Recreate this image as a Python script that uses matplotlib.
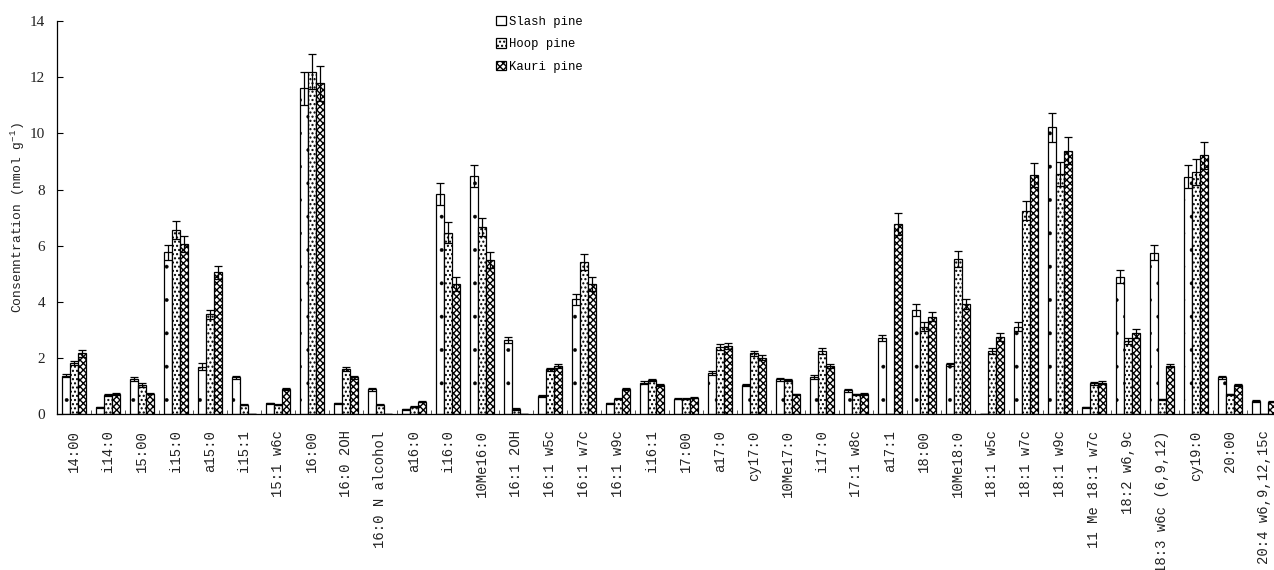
import numpy as np
import matplotlib
matplotlib.use("Agg")
import matplotlib.pyplot as plt
from matplotlib.patches import Patch

# Fatty acid (PLFA) concentrations under three pine plantations
categories = [
    "14:00", "i14:0", "15:00", "i15:0", "a15:0", "i15:1", "15:1 w6c", "16:00",
    "16:0 2OH", "16:0 N alcohol", "a16:0", "i16:0", "10Me16:0", "16:1 2OH",
    "16:1 w5c", "16:1 w7c", "16:1 w9c", "i16:1", "17:00", "a17:0", "cy17:0",
    "10Me17:0", "i17:0", "17:1 w8c", "a17:1", "18:00", "10Me18:0", "18:1 w5c",
    "18:1 w7c", "18:1 w9c", "11 Me 18:1 w7c", "18:2 w6,9c", "18:3 w6c (6,9,12)",
    "cy19:0", "20:00", "20:4 w6,9,12,15c",
]

slash = [1.38, 0.25, 1.25, 5.77, 1.70, 1.32, 0.39, 11.60, 0.39, 0.89, 0.18, 7.85,
         8.48, 2.65, 0.65, 4.10, 0.39, 1.13, 0.56, 1.47, 1.04, 1.25, 1.33, 0.86,
         2.73, 3.71, 1.78, 0.00, 3.12, 10.21, 0.25, 4.90, 5.75, 8.46, 1.32, 0.48]
slash_err = [0.07, 0.01, 0.07, 0.27, 0.12, 0.06, 0.02, 0.59, 0.02, 0.05, 0.01, 0.39,
             0.40, 0.11, 0.02, 0.20, 0.02, 0.04, 0.02, 0.06, 0.03, 0.05, 0.06, 0.05,
             0.11, 0.20, 0.05, 0.00, 0.15, 0.52, 0.01, 0.23, 0.27, 0.41, 0.05, 0.03]

hoop = [1.84, 0.69, 1.04, 6.57, 3.56, 0.34, 0.34, 12.19, 1.60, 0.34, 0.27, 6.47,
        6.67, 0.19, 1.60, 5.43, 0.55, 1.23, 0.55, 2.41, 2.17, 1.22, 2.25, 0.71,
        0.00, 3.12, 5.53, 2.26, 7.25, 8.55, 1.10, 2.61, 0.54, 8.62, 0.71, 0.00]
hoop_err = [0.07, 0.03, 0.06, 0.32, 0.15, 0.02, 0.02, 0.62, 0.07, 0.02, 0.02, 0.37,
            0.31, 0.02, 0.06, 0.28, 0.02, 0.04, 0.02, 0.11, 0.10, 0.05, 0.10, 0.02,
            0.00, 0.15, 0.27, 0.10, 0.35, 0.43, 0.05, 0.12, 0.02, 0.45, 0.02, 0.00]

kauri = [2.17, 0.72, 0.74, 6.07, 5.05, 0.00, 0.90, 11.78, 1.32, 0.00, 0.45, 4.63,
         5.48, 0.00, 1.73, 4.63, 0.90, 1.04, 0.59, 2.43, 2.02, 0.71, 1.73, 0.72,
         6.77, 3.47, 3.93, 2.74, 8.52, 9.38, 1.13, 2.88, 1.73, 9.22, 1.04, 0.45]
kauri_err = [0.12, 0.03, 0.03, 0.28, 0.24, 0.00, 0.03, 0.61, 0.06, 0.00, 0.02, 0.25,
             0.29, 0.00, 0.07, 0.24, 0.03, 0.03, 0.02, 0.10, 0.10, 0.02, 0.07, 0.03,
             0.38, 0.16, 0.18, 0.14, 0.44, 0.48, 0.05, 0.15, 0.05, 0.48, 0.03, 0.02]

series_names = ["Slash pine", "Hoop pine", "Kauri pine"]
yticks = [0, 2, 4, 6, 8, 10, 12, 14]

plt.rcParams["hatch.linewidth"] = 1.0
plt.rcParams["mathtext.fontset"] = "custom"
plt.rcParams["mathtext.rm"] = "Liberation Mono"
plt.rcParams["mathtext.it"] = "Liberation Mono"

W, H = 1274, 570
fig = plt.figure(figsize=(W / 100, H / 100), dpi=100)
ax = fig.add_axes([57 / W, 155.7 / H, 1217 / W, 393.3 / H])

x = np.arange(len(categories))
width = 0.245
hatches = [".", "....", "xxxxx"]
hatch_lw = [0.3, 1.0, 1.0]
series = [(slash, slash_err), (hoop, hoop_err), (kauri, kauri_err)]

for k, ((vals, errs), hatch, hlw) in enumerate(zip(series, hatches, hatch_lw)):
    with plt.rc_context({"hatch.linewidth": hlw}):
        ax.bar(x + (k - 1) * width, vals, width, color="white", edgecolor="black",
               linewidth=0.9, hatch=hatch, yerr=errs,
               error_kw=dict(ecolor="black", elinewidth=0.9, capsize=3,
                             capthick=0.9))

ax.set_xlim(-0.5, -0.5 + 1217 / 34)
ax.set_ylim(0, 14)
ax.spines["top"].set_visible(False)
ax.spines["right"].set_visible(False)
for s in ("left", "bottom"):
    ax.spines[s].set_linewidth(0.9)

ax.set_xticks(x)
ax.set_xticklabels(categories, rotation=90, fontsize=10, family="Liberation Mono",
                   color="#222222")
ax.set_xticks(x[:-1] + 0.5, minor=True)
ax.tick_params(axis="x", which="major", length=0, pad=11.5)
ax.tick_params(axis="x", which="minor", direction="in", length=3.2, width=0.7,
               color="#555555")

ax.set_yticks(yticks)
ax.set_yticklabels([str(v) for v in yticks], fontsize=11, family="Liberation Serif",
                   color="#222222")
ax.tick_params(axis="y", direction="in", length=4, width=0.8, pad=8.6)

ax.set_ylabel("Consenntration (nmol g$^{-1}$)", fontsize=9.4,
              family="Liberation Mono", color="#222222")
ax.yaxis.set_label_coords(-30 / 1217, 0.5)

handles = []
for h, hlw in zip(hatches, hatch_lw):
    with plt.rc_context({"hatch.linewidth": hlw}):
        handles.append(Patch(facecolor="white", edgecolor="black", hatch=h,
                             linewidth=0.9))
fig.legend(handles, series_names, loc="upper left",
           bbox_to_anchor=(496 / W, 1 - 16 / H), bbox_transform=fig.transFigure,
           frameon=False, prop=dict(family="Liberation Mono", size=8.8),
           handlelength=0.8, handleheight=0.8, handletextpad=0.3,
           labelspacing=0.85, borderpad=0, borderaxespad=0)

fig.savefig("out.png", dpi=100)
